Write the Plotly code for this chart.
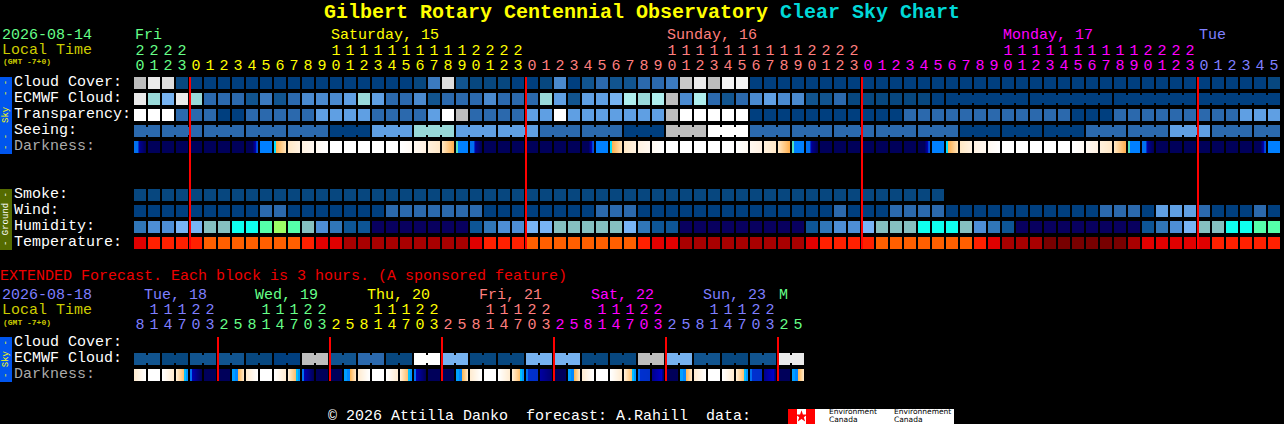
import plotly.graph_objects as go

# ---------- data (one code per hourly column) ----------
cloud_cover = list("ikjm" + "aaaaaaaaaaaaaaaa" + "mnjbmmma" + "amdabcbbccnokipp" + "aaaaaaaa" + "a" * 24 + "aaaaam")
ecmwf_cloud = list("kgfk" + "gcccbnbcdddegeccdbcccdcc" + "cgebeefhghidhcbcdeddbbcm" + "mmmmma" + "a" * 18 + "aaaaaa")
transparency = list("lllc" + "ccaaccccc" + "eeee" + "cccc" + "eli" + "cccc" + "eeleeeeeeeilllllaaaaaaaa" + "aaa" + "c" * 12 + "aaa" + "c" * 6 + "ccceee")
seeing_blocks = list("cccccaegeeccailcccccaaaccecc")
seeing_lengths = [2] + [3] * 26 + [2]
smoke = list("m" * 58)
wind = list("aaaa" + "aaaaa" + "cc" + "aaaaaaa" + "ccccccc" + "aaa" + "aaaaa" + "ccc" + "a" * 14 + "ca" + "aa" + "cccc" + "a" * 11 + "ccc" + "a" + "eee" + "caaaca")
humidity = list("CDDE" + "EFFGGHIHFDCBB" + "AAAAAAA" + "BCDD" + "EEFFFFFECBB" + "A" * 9 + "BCDD" + "EFFFGGGFDCB" + "A" * 9 + "BCDE" + "FFGGHH")
temperature = list("rsss" + "suuuuuuusrr" + "v" * 9 + "rsss" + "u" * 8 + "srr" + "v" * 9 + "rsss" + "suuuuuuusr" + "vvv" + "wwwwww" + "v" + "rrrr" + "rsssss")
darkness = (["BN"] + ["N"] * 7 + ["NB", "B", "CO", "P1", "P2", "P3"] + ["W"] * 5 + ["W2", "R3", "R2", "OR", "GB"]) * 3
darkness = darkness + ["BN"] + ["N"] * 7 + ["NB", "B"]

ext_ecmwf_blocks = list("bmbbmaibcmlfmmffmmifbmbk")
ext_darkness = ["E0", "W", "E2", "E3", "E4", "N", "N", "E7",
                "E0", "W", "E2", "E3", "E4", "N", "N", "E7",
                "E0", "W", "E2", "E3", "E4", "N", "N", "E7",
                "E0", "W", "E2", "E3", "M1", "M3", "N", "E7",
                "E0", "W", "E2", "E3", "M1", "M2", "N", "E7",
                "E0", "W", "E2", "E3", "M1", "M2", "N", "E7"]

tens = list("2222" + "          " + "11111111112222" + "          " + "11111111112222" + "          " + "11111111112222" + "          " + "111111")
tens = tens[:82]
tens[76:] = list("      ")
units = list("0123" + "012345678901234567890123" * 3 + "012345")
ext_tens = list(" 11122" + "   11122" * 5 + "  ")
ext_units = list("814703" + "25814703" * 5 + "25")

top_days = [("Fri", 135), ("Saturday, 15", 331), ("Sunday, 16", 667), ("Monday, 17", 1003), ("Tue", 1199)]
ext_days = [("Tue, 18", 144), ("Wed, 19", 255), ("Thu, 20", 367), ("Fri, 21", 479), ("Sat, 22", 591), ("Sun, 23", 703), ("M", 779)]
midnights = [4, 28, 52, 76]
ext_midnights = [6, 14, 22, 30, 38, 46]
sky_labels = ["Cloud Cover:", "ECMWF Cloud:", "Transparency:", "Seeing:", "Darkness:"]
ground_labels = ["Smoke:", "Wind:", "Humidity:", "Temperature:"]
ext_labels = ["Cloud Cover:", "ECMWF Cloud:", "Darkness:"]

# ---------- styling ----------
FONT = "Liberation Mono"
GREEN, YEL, SAL, MAG, PER = "#66ff88", "#ffff00", "#ff7f7f", "#ff00ff", "#7f7fff"
OLIVE = "#cccc00"
palette = {
    "a": "#003f7f", "m": "#07477f", "b": "#11548f", "c": "#2b69ad", "n": "#3b7abf", "d": "#4a8acf",
    "e": "#5f9fe3", "f": "#76b2f0", "g": "#99d9d9", "h": "#aeeeee", "i": "#bdbdbd", "o": "#c8c8c8",
    "j": "#dedede", "k": "#eaeaea", "p": "#f4f4f4", "l": "#ffffff",
    "A": "#08005f", "B": "#0d5595", "C": "#3076b8", "D": "#4d8ed6", "E": "#78b4f5", "F": "#85c0c0",
    "G": "#0fffef", "H": "#55ffaa", "I": "#9bff66",
    "r": "#e00000", "s": "#ff2000", "u": "#ff5f00", "v": "#a80000", "w": "#780000",
}


def ramp(c1, c2, n):
    a = [int(c1[i:i + 2], 16) for i in (1, 3, 5)]
    b = [int(c2[i:i + 2], 16) for i in (1, 3, 5)]
    out = []
    for k in range(n):
        t = k / max(n - 1, 1)
        out.append("#%02x%02x%02x" % tuple(round(a[j] + (b[j] - a[j]) * t) for j in range(3)))
    return out


NAVY = "#00005a"
strips = {
    "N": [NAVY] * 12,
    "BN": ["#0070f0"] * 4 + ["#0030c8", "#0000a0"] + ramp("#000088", NAVY, 6),
    "NB": [NAVY] * 6 + ramp(NAVY, "#000090", 3) + ["#0000b0", "#0040d8", "#0050e0"],
    "B": ["#0080ff"] * 12,
    "CO": ["#00e0ff", "#00e0ff"] + ramp("#ffb050", "#ffe2b4", 10),
    "P1": ramp("#ffe8c6", "#fff2e0", 12),
    "P2": ramp("#fff2e2", "#fff8f0", 12),
    "P3": ramp("#fff9f2", "#ffffff", 12),
    "W": ["#ffffff"] * 12,
    "W2": ramp("#ffffff", "#fffaf4", 12),
    "R3": ramp("#fff8f0", "#fff1e2", 12),
    "R2": ramp("#fff0dc", "#ffe8c8", 12),
    "OR": ramp("#ffe6c0", "#ffb050", 12),
    "GB": ["#50e0c0", "#50e0c0"] + ["#0080ff"] * 10,
    "E0": ramp("#ffecd2", "#ffffff", 12),
    "E2": ramp("#ffffff", "#ffecd2", 12),
    "E3": ramp("#ffeed4", "#ffc070", 8) + ["#00c0ff", "#00c0ff", "#0098ff", "#0098ff"],
    "E4": ["#0070f0", "#0070f0"] + ramp("#0000b0", NAVY, 10),
    "E7": ["#00a0ff"] * 3 + ["#0088ff"] * 3 + ramp("#ffb858", "#ffe6c4", 6),
    "M1": ["#0070f0", "#0070f0"] + ramp("#0030d0", "#0030c8", 10),
    "M2": ramp("#000090", "#0000c8", 10) + ["#000090", "#000070"],
    "M3": ramp("#0000a0", "#000070", 12),
}
all_colors = list(palette.values())
for s in strips.values():
    for c in s:
        if c not in all_colors:
            all_colors.append(c)
cidx = {c: i for i, c in enumerate(all_colors)}
N = len(all_colors)
cscale = [[i / (N - 1), c] for i, c in enumerate(all_colors)]

fig = go.Figure()


def col_x(i):
    return 140 + 14 * i


def heat_row(codes, yc, start=0):
    fig.add_trace(go.Heatmap(
        z=[[cidx[palette[c]] for c in codes]], x=[col_x(i + start) for i in range(len(codes))],
        y0=yc, dy=12, zmin=0, zmax=N - 1, colorscale=cscale, showscale=False, xgap=2, ygap=0,
        hoverinfo="skip"))


def blocks_row(codes, lengths, yc):
    cells, pos = [], 0
    seg = {}
    for c, ln in zip(codes, lengths):
        cells += [c] * ln
        for k in range(ln - 1):
            xs = 134 + 14 * (pos + k) + 12
            seg.setdefault(c, ([], []))
            seg[c][0].extend([xs, xs + 2, None])
            seg[c][1].extend([yc, yc, None])
        pos += ln
    heat_row(cells, yc)
    for c, (xs, ys) in seg.items():
        fig.add_trace(go.Scatter(x=xs, y=ys, mode="lines", line=dict(color=palette[c], width=8),
                                 hoverinfo="skip", showlegend=False))


def dark_row(names, yc):
    xs, zs = [], []
    for i, nm in enumerate(names):
        left = 134 + 14 * i
        for k, c in enumerate(strips[nm]):
            xs.append(left + k + 0.5)
            zs.append(cidx[c])
        xs += [left + 12.5, left + 13.5]
        zs += [None, None]
    fig.add_trace(go.Heatmap(z=[zs], x=xs, y0=yc, dy=12, zmin=0, zmax=N - 1, colorscale=cscale,
                             showscale=False, hoverinfo="skip", zsmooth=False))


# sky rows
heat_row(cloud_cover, 83)
# ECMWF: hourly cells then 6-column joined blocks
heat_row(ecmwf_cloud, 99)
seg_x, seg_y = [], []
for col in range(58, 81):
    if (col - 58) % 6 != 5:
        seg_x += [134 + 14 * col + 12, 134 + 14 * col + 14, None]
        seg_y += [99, 99, None]
fig.add_trace(go.Scatter(x=seg_x, y=seg_y, mode="lines", line=dict(color=palette["a"], width=8),
                         hoverinfo="skip", showlegend=False))
heat_row(transparency, 115)
blocks_row(seeing_blocks, seeing_lengths, 131)
dark_row(darkness, 147)
# ground rows
heat_row(smoke, 195)
heat_row(wind, 211)
heat_row(humidity, 227)
heat_row(temperature, 243)
# extended rows
blocks_row(ext_ecmwf_blocks, [2] * 24, 359)
dark_row(ext_darkness, 375)

# red midnight lines
lx, ly = [], []
for c in midnights:
    lx += [134 + 14 * c, 134 + 14 * c, None]
    ly += [77, 249, None]
for c in ext_midnights:
    lx += [134 + 14 * c, 134 + 14 * c, None]
    ly += [337, 381, None]
fig.add_trace(go.Scatter(x=lx, y=ly, mode="lines", line=dict(color="#ff0000", width=2),
                         hoverinfo="skip", showlegend=False))


def day_color(i):
    if i < 4:
        return GREEN
    return [YEL, SAL, MAG, PER][min((i - 4) // 24, 3)]


def ext_color(i):
    if i < 6:
        return PER
    return [GREEN, YEL, SAL, MAG, PER, GREEN][(i - 6) // 8]


def digits(chars, yc, colorf):
    pts = [(col_x(i), c, colorf(i)) for i, c in enumerate(chars) if c.strip()]
    fig.add_trace(go.Scatter(
        x=[p[0] for p in pts], y=[yc] * len(pts), text=[p[1] for p in pts], mode="text",
        textposition="middle center", textfont=dict(family=FONT, size=15, color=[p[2] for p in pts]),
        hoverinfo="skip", showlegend=False))


digits(tens, 51, day_color)
digits(units, 66.5, day_color)
digits(ext_tens, 310.5, ext_color)
digits(ext_units, 325.5, ext_color)

# panels
shapes = [
    dict(type="rect", x0=0, x1=12, y0=77, y1=154, fillcolor="#0055ee", line_width=0, layer="below"),
    dict(type="rect", x0=0, x1=12, y0=189, y1=250, fillcolor="#556b00", line_width=0, layer="below"),
    dict(type="rect", x0=0, x1=12, y0=337, y1=382, fillcolor="#0055ee", line_width=0, layer="below"),
    dict(type="rect", x0=788, x1=954, y0=409, y1=424, fillcolor="#ffffff", line_width=0, layer="below"),
    dict(type="rect", x0=788, x1=797, y0=409, y1=424, fillcolor="#ff0000", line_width=0, layer="below"),
    dict(type="rect", x0=806, x1=815, y0=409, y1=424, fillcolor="#ff0000", line_width=0, layer="below"),
]
fig.add_trace(go.Scatter(x=[801.5], y=[416.5], mode="markers",
                         marker=dict(symbol="star", size=9, color="#ff0000"), hoverinfo="skip", showlegend=False))

ann = []


def T(text, x, y, color="#ffffff", size=15, bold=False, anchor="left", angle=0, family=FONT):
    t = f"<b>{text}</b>" if bold else text
    ann.append(dict(text=t, x=x, y=y, xref="x", yref="y", xanchor=anchor, yanchor="middle", showarrow=False,
                    textangle=angle, borderpad=0, borderwidth=0,
                    font=dict(family=family, size=size, color=color)))


T("Gilbert Rotary Centennial Observatory", 324, 12, YEL, 20, True)
T("Clear Sky Chart", 780, 12, "#00d8d8", 20, True)
T("2026-08-14", 2, 35, GREEN)
T("Local Time", 2, 50, OLIVE)
T("(GMT -7+0)", 3, 61.5, OLIVE, 8, True)
for (txt, x), c in zip(top_days, [GREEN, YEL, SAL, MAG, PER]):
    T(txt, x, 35, c)
for i, lab in enumerate(sky_labels):
    T(lab, 14, 82 + 16 * i, "#aaaaaa" if lab == "Darkness:" else "#ffffff")
for i, lab in enumerate(ground_labels):
    T(lab, 14, 194 + 16 * i)
T("EXTENDED Forecast. Each block is 3 hours. (A sponsored feature)", 0, 276, "#ee0000")
T("2026-08-18", 2, 295, PER)
T("Local Time", 2, 310, OLIVE)
T("(GMT -7+0)", 3, 322, OLIVE, 8, True)
for (txt, x), c in zip(ext_days, [PER, GREEN, YEL, SAL, MAG, PER, GREEN]):
    T(txt, x, 295, c)
for i, lab in enumerate(ext_labels):
    T(lab, 14, 342 + 16 * i, "#aaaaaa" if lab == "Darkness:" else "#ffffff")
T("- -\u00a0\u00a0Sky\u00a0\u00a0- -", 6, 115, "#ffff00", 9, False, "center", -90)
T("- Ground -", 6, 219, "#ffffff", 9, False, "center", -90)
T("- Sky -", 6, 359, "#ffff00", 9, False, "center", -90)
T("\u00a9 2026 Attilla Danko\u00a0\u00a0forecast: A.Rahill\u00a0\u00a0data:", 328, 416)
for x, a, b in [(829, "Environment", "Canada"), (894, "Environnement", "Canada")]:
    T(a, x, 411.2, "#000000", 7.5, False, "left", 0, "DejaVu Sans")
    T(b, x, 419.8, "#000000", 7.5, False, "left", 0, "DejaVu Sans")

fig.update_layout(
    width=1284, height=424, margin=dict(l=0, r=0, t=0, b=0), autosize=False,
    paper_bgcolor="#000000", plot_bgcolor="#000000", showlegend=False,
    xaxis=dict(range=[0, 1284], visible=False, fixedrange=True),
    yaxis=dict(range=[424, 0], visible=False, fixedrange=True),
    shapes=shapes, annotations=ann,
)
fig.write_html("out.html", config={"displayModeBar": False},
               post_script="document.body.style.margin='0';document.body.style.background='#000';document.body.style.overflow='hidden';")
